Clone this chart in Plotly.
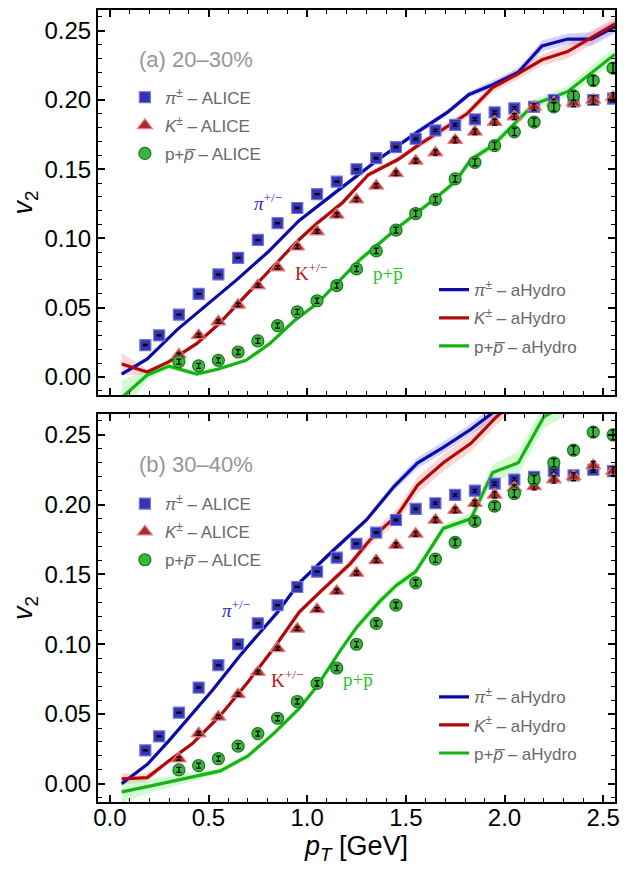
"""v2(pT) of identified hadrons: ALICE data vs aHydro, two centrality classes."""

import plotly.graph_objects as go

# ---------------- data ----------------
PT_PION = [0.18, 0.25, 0.35, 0.45, 0.55, 0.65, 0.75, 0.85, 0.95, 1.05, 1.15, 1.25, 1.35,
           1.45, 1.55, 1.65, 1.75, 1.85, 1.95, 2.05, 2.15, 2.25, 2.35, 2.45, 2.55]
PT_HEAVY = [0.35, 0.45, 0.55, 0.65, 0.75, 0.85, 0.95, 1.05, 1.15, 1.25, 1.35, 1.45,
            1.55, 1.65, 1.75, 1.85, 1.95, 2.05, 2.15, 2.25, 2.35, 2.45, 2.55]

# (a) 20-30%
PION_A = [0.023, 0.030, 0.045, 0.060, 0.074, 0.086, 0.099, 0.111, 0.122, 0.132, 0.141, 0.150,
          0.158, 0.166, 0.172, 0.178, 0.182, 0.186, 0.191, 0.194, 0.195, 0.200, 0.199, 0.200, 0.201]
KAON_A = [0.016, 0.030, 0.040, 0.052, 0.066, 0.079, 0.094, 0.105, 0.117, 0.128, 0.138, 0.147,
          0.156, 0.162, 0.171, 0.177, 0.184, 0.188, 0.195, 0.198, 0.198, 0.200, 0.202]
PROTON_A = [0.011, 0.008, 0.012, 0.018, 0.026, 0.037, 0.047, 0.055, 0.066, 0.078, 0.091, 0.106,
            0.118, 0.128, 0.143, 0.155, 0.167, 0.177, 0.184, 0.195, 0.203, 0.214, 0.223]

# (b) 30-40%
PION_B = [0.024, 0.034, 0.051, 0.069, 0.085, 0.100, 0.115, 0.128, 0.141, 0.152, 0.162, 0.172,
          0.180, 0.189, 0.197, 0.201, 0.207, 0.210, 0.215, 0.218, 0.220, 0.224, 0.221, 0.225, 0.224]
KAON_B = [0.018, 0.036, 0.048, 0.064, 0.080, 0.097, 0.111, 0.125, 0.138, 0.151, 0.160, 0.171,
          0.179, 0.189, 0.196, 0.201, 0.207, 0.212, 0.213, 0.218, 0.220, 0.228, 0.224]
PROTON_B = [0.010, 0.013, 0.018, 0.027, 0.036, 0.047, 0.059, 0.072, 0.083, 0.100, 0.115, 0.128,
            0.144, 0.161, 0.173, 0.188, 0.199, 0.208, 0.218, 0.230, 0.239, 0.252, 0.250]

# statistical errors
ERR_PION = [0.0004, 0.0004, 0.0004, 0.0004, 0.0004, 0.0004, 0.0004, 0.0004, 0.0004, 0.0004,
            0.0005, 0.0005, 0.0006, 0.0006, 0.0007, 0.0008, 0.0009, 0.0010, 0.0011, 0.0012,
            0.0013, 0.0015, 0.0016, 0.0018, 0.0020]
ERR_KAON = [0.0012, 0.0012, 0.0012, 0.0012, 0.0012, 0.0012, 0.0013, 0.0013, 0.0014, 0.0014,
            0.0015, 0.0016, 0.0017, 0.0018, 0.0019, 0.0020, 0.0021, 0.0022, 0.0024, 0.0026,
            0.0028, 0.0030, 0.0032]
ERR_PROTON = [0.0018, 0.0018, 0.0018, 0.0018, 0.0018, 0.0018, 0.0018, 0.0019, 0.0019, 0.0020,
              0.0020, 0.0021, 0.0022, 0.0023, 0.0024, 0.0025, 0.0026, 0.0027, 0.0029, 0.0030,
              0.0032, 0.0034, 0.0036]

# aHydro curves (a)
HPT_PI_A = [0.06, 0.19, 0.34, 0.50, 0.65, 0.80, 0.96, 1.15, 1.36, 1.56, 1.71, 1.82, 1.94,
            2.07, 2.19, 2.32, 2.44, 2.56]
HV2_PI_A = [0.002, 0.013, 0.034, 0.053, 0.071, 0.090, 0.113, 0.134, 0.157, 0.177, 0.191,
            0.204, 0.211, 0.220, 0.239, 0.244, 0.244, 0.253]
HBAND_PI_A = [0.001, 0.001, 0.001, 0.001, 0.001, 0.001, 0.001, 0.0015, 0.0015, 0.002, 0.002,
              0.002, 0.003, 0.003, 0.004, 0.004, 0.005, 0.005]

HPT_K_A = [0.06, 0.19, 0.30, 0.44, 0.55, 0.75, 0.95, 1.05, 1.18, 1.31, 1.46, 1.56, 1.68,
           1.81, 1.94, 2.07, 2.19, 2.32, 2.44, 2.56]
HV2_K_A = [0.0093, 0.0036, 0.011, 0.024, 0.038, 0.068, 0.098, 0.111, 0.126, 0.146, 0.157,
           0.167, 0.178, 0.190, 0.209, 0.219, 0.229, 0.235, 0.245, 0.255]
HBAND_K_A = [0.008, 0.002, 0.0015, 0.0015, 0.0015, 0.0015, 0.0015, 0.0015, 0.002, 0.002,
             0.002, 0.0025, 0.003, 0.003, 0.0035, 0.004, 0.004, 0.005, 0.005, 0.005]

HPT_P_A = [0.06, 0.19, 0.30, 0.44, 0.55, 0.69, 0.81, 0.93, 1.05, 1.27, 1.47, 1.65, 1.75,
           1.83, 1.94, 2.05, 2.15, 2.32, 2.45, 2.56]
HV2_P_A = [-0.015, 0.0014, 0.0078, 0.0021, 0.0057, 0.012, 0.024, 0.040, 0.053, 0.085, 0.109,
           0.129, 0.141, 0.157, 0.167, 0.183, 0.197, 0.206, 0.221, 0.233]
HBAND_P_A = [0.012, 0.004, 0.002, 0.0015, 0.0015, 0.0015, 0.0015, 0.0015, 0.0015, 0.002,
             0.002, 0.002, 0.0025, 0.003, 0.003, 0.003, 0.0035, 0.004, 0.005, 0.005]

# aHydro curves (b)
HPT_PI_B = [0.06, 0.19, 0.30, 0.52, 0.66, 0.85, 0.96, 1.13, 1.30, 1.44, 1.56, 1.69, 1.83,
            1.96, 2.10]
HV2_PI_B = [0.000, 0.014, 0.031, 0.067, 0.092, 0.123, 0.144, 0.167, 0.189, 0.213, 0.230,
            0.241, 0.254, 0.268, 0.285]
HBAND_PI_B = [0.001, 0.001, 0.001, 0.001, 0.001, 0.0015, 0.0015, 0.002, 0.002, 0.003, 0.004,
              0.004, 0.004, 0.005, 0.005]

HPT_K_B = [0.06, 0.19, 0.30, 0.42, 0.56, 0.70, 0.83, 0.96, 1.07, 1.22, 1.32, 1.46, 1.56,
           1.69, 1.83, 1.96, 2.10]
HV2_K_B = [0.0036, 0.0045, 0.0165, 0.029, 0.049, 0.073, 0.097, 0.123, 0.138, 0.158, 0.175,
           0.193, 0.214, 0.230, 0.244, 0.263, 0.280]
HBAND_K_B = [0.004, 0.003, 0.0015, 0.0015, 0.0015, 0.0015, 0.0015, 0.002, 0.002, 0.003,
             0.004, 0.005, 0.006, 0.006, 0.006, 0.006, 0.006]

HPT_P_B = [0.06, 0.19, 0.56, 0.70, 0.83, 0.96, 1.05, 1.17, 1.25, 1.37, 1.45, 1.55, 1.69,
           1.83, 1.94, 2.07, 2.20, 2.35]
HV2_P_B = [-0.0057, -0.002, 0.0093, 0.020, 0.036, 0.054, 0.070, 0.096, 0.112, 0.131, 0.142,
           0.152, 0.183, 0.190, 0.223, 0.230, 0.263, 0.275]
HBAND_P_B = [0.008, 0.005, 0.002, 0.002, 0.002, 0.002, 0.002, 0.002, 0.0025, 0.003, 0.003,
             0.003, 0.003, 0.004, 0.006, 0.008, 0.008, 0.008]

# ---------------- styles ----------------
BLUE_LINE = "rgb(10,10,170)"
RED_LINE = "rgb(175,10,10)"
GREEN_LINE = "rgb(20,180,20)"
BLUE_BAND = "rgba(110,110,255,0.30)"
RED_BAND = "rgba(255,120,120,0.30)"
GREEN_BAND = "rgba(110,240,110,0.30)"

SANS = "Liberation Sans, Arial, sans-serif"
SERIF = "Liberation Serif, Times New Roman, serif"
LEGEND_GREY = "rgb(105,105,105)"

fig = go.Figure()


def add_band(pt, v2, half, color, xa, ya):
    xs = list(pt) + list(pt)[::-1]
    ys = [v + h for v, h in zip(v2, half)] + [v - h for v, h in zip(v2, half)][::-1]
    fig.add_trace(go.Scatter(x=xs, y=ys, fill="toself", fillcolor=color, mode="lines",
                             line=dict(width=0), showlegend=False, hoverinfo="skip",
                             xaxis=xa, yaxis=ya))


def add_line(pt, v2, color, name, legend, xa, ya):
    fig.add_trace(go.Scatter(x=pt, y=v2, mode="lines", name=name, legend=legend,
                             legendgroup=legend + name,
                             line=dict(color=color, width=3.2), xaxis=xa, yaxis=ya))


def add_points(pt, v2, err, symbol, size, fill, edge, name, legend, xa, ya):
    fig.add_trace(go.Scatter(
        x=pt, y=v2, mode="markers", name=name, legend=legend, legendgroup=legend + name,
        marker=dict(symbol=symbol, size=size, color=fill, line=dict(color=edge, width=1.2)),
        xaxis=xa, yaxis=ya))
    # error bars drawn on top of the symbols
    fig.add_trace(go.Scatter(
        x=pt, y=v2, mode="markers", showlegend=False, hoverinfo="skip",
        marker=dict(size=1, color="rgba(0,0,0,0)"),
        error_y=dict(type="data", array=err, color="black", thickness=1.3, width=2.5),
        xaxis=xa, yaxis=ya))


NAME_PI = "<i>π</i><sup>±</sup> – ALICE"
NAME_K = "<i>K</i><sup>±</sup> – ALICE"
NAME_P = "p+<i>p\u0305</i> – ALICE"
NAME_HPI = "<i>π</i><sup>±</sup> – aHydro"
NAME_HK = "<i>K</i><sup>±</sup> – aHydro"
NAME_HP = "p+<i>p\u0305</i> – aHydro"

panels = [
    # x-axis, y-axis, marker legend, line legend, data
    ("x2", "y2", "legend", "legend2",
     (HPT_PI_A, HV2_PI_A, HBAND_PI_A), (HPT_K_A, HV2_K_A, HBAND_K_A),
     (HPT_P_A, HV2_P_A, HBAND_P_A), PION_A, KAON_A, PROTON_A),
    ("x", "y", "legend3", "legend4",
     (HPT_PI_B, HV2_PI_B, HBAND_PI_B), (HPT_K_B, HV2_K_B, HBAND_K_B),
     (HPT_P_B, HV2_P_B, HBAND_P_B), PION_B, KAON_B, PROTON_B),
]

for xa, ya, leg_pts, leg_lines, hpi, hk, hp, pion, kaon, proton in panels:
    add_band(*hpi, BLUE_BAND, xa, ya)
    add_band(*hk, RED_BAND, xa, ya)
    add_band(*hp, GREEN_BAND, xa, ya)
    add_line(hpi[0], hpi[1], BLUE_LINE, NAME_HPI, leg_lines, xa, ya)
    add_line(hk[0], hk[1], RED_LINE, NAME_HK, leg_lines, xa, ya)
    add_line(hp[0], hp[1], GREEN_LINE, NAME_HP, leg_lines, xa, ya)
    add_points(PT_PION, pion, ERR_PION, "square", 11, "rgb(52,52,182)",
               "rgb(115,115,215)", NAME_PI, leg_pts, xa, ya)
    add_points(PT_HEAVY, kaon, ERR_KAON, "triangle-up", 13, "rgb(172,42,42)",
               "rgb(225,130,130)", NAME_K, leg_pts, xa, ya)
    add_points(PT_HEAVY, proton, ERR_PROTON, "circle", 12, "rgb(58,182,58)",
               "rgb(25,120,25)", NAME_P, leg_pts, xa, ya)

# ---------------- axes ----------------
axis_common = dict(
    showline=True, linewidth=2, linecolor="black", mirror="allticks",
    ticks="inside", ticklen=7, tickwidth=1.5, tickcolor="black",
    showgrid=False, zeroline=False,
    tickfont=dict(family=SANS, size=24, color="black"),
)
x_common = dict(axis_common, range=[-0.06, 2.56], tick0=0, dtick=0.5, tickformat=".1f",
                minor=dict(ticks="inside", dtick=0.1, ticklen=4, tickwidth=1, tickcolor="black"))
y_common = dict(axis_common, range=[-0.013, 0.265], tick0=0, dtick=0.05, tickformat=".2f",
                minor=dict(ticks="inside", dtick=0.01, ticklen=4, tickwidth=1, tickcolor="black"),
                title=dict(text="<i>v</i><sub>2</sub>", standoff=12,
                           font=dict(family=SANS, size=27, color="black")))

legend_common = dict(bgcolor="rgba(0,0,0,0)", borderwidth=0, xanchor="left", yanchor="top",
                     tracegroupgap=3, itemwidth=30,
                     font=dict(family=SANS, size=17, color=LEGEND_GREY))

# the page adds an 8 px body margin, so the figure is drawn 16 px smaller
fig.update_layout(
    width=616, height=857,
    margin=dict(l=90, r=9, t=0, b=63),
    plot_bgcolor="white", paper_bgcolor="white",
    xaxis=dict(x_common, domain=[0, 1], anchor="y", ticklabelstandoff=-7,
               title=dict(text="<i>p</i><sub><i>T</i></sub> [GeV]", standoff=14,
                          font=dict(family=SANS, size=27, color="black"))),
    yaxis=dict(y_common, domain=[0, 0.490], anchor="x"),
    xaxis2=dict(x_common, domain=[0, 1], anchor="y2", matches="x", showticklabels=False),
    yaxis2=dict(y_common, domain=[0.514, 1], anchor="x2"),
    legend=dict(legend_common, x=0.052, y=0.912),
    legend2=dict(legend_common, x=0.65, y=0.669),
    legend3=dict(legend_common, x=0.052, y=0.399),
    legend4=dict(legend_common, x=0.65, y=0.155),
    showlegend=True,
)

# ---------------- annotations ----------------
PANEL_LABELS = ["(a) 20–30%", "(b) 30–40%"]
for text, xa, ya in zip(PANEL_LABELS, ["x2", "x"], ["y2", "y"]):
    fig.add_annotation(x=0.14, y=0.229, xref=xa, yref=ya, text=text, showarrow=False,
                       xanchor="left", yanchor="middle",
                       font=dict(family=SANS, size=22, color="rgb(150,150,150)"))

CURVE_LABELS = ["<i>π</i><sup>+/−</sup>", "K<sup>+/−</sup>", "p+p\u0305"]
CURVE_COLORS = ["rgb(40,40,210)", "rgb(180,25,25)", "rgb(40,195,40)"]
LABEL_POS_A = [(0.80, 0.126), (1.02, 0.076), (1.41, 0.075)]
LABEL_POS_B = [(0.64, 0.125), (0.90, 0.075), (1.26, 0.075)]
for pos_list, xa, ya in [(LABEL_POS_A, "x2", "y2"), (LABEL_POS_B, "x", "y")]:
    for text, color, (px_, py_) in zip(CURVE_LABELS, CURVE_COLORS, pos_list):
        fig.add_annotation(x=px_, y=py_, xref=xa, yref=ya, text=text, showarrow=False,
                           font=dict(family=SERIF, size=19, color=color))

fig.write_html("out.html")
